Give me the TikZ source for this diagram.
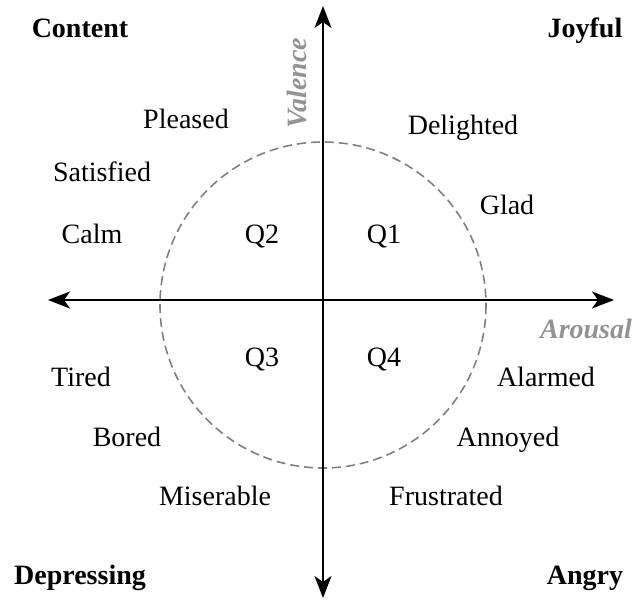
\documentclass[tikz,border=0pt]{standalone}
\usepackage{fontspec}
\setmainfont{Liberation Serif}
\newfontfamily\tnr{Liberation Serif}
\usetikzlibrary{arrows.meta}
\tikzset{
  lbl/.style={font=\tnr\fontsize{28}{30}\selectfont, inner sep=0pt, anchor=base},
  corner/.style={font=\tnr\fontsize{28}{30}\selectfont\bfseries, inner sep=0pt, anchor=base},
  axlbl/.style={font=\tnr\fontsize{28}{30}\selectfont\bfseries\itshape, text=gray!85, inner sep=0pt},
  axis/.style={line width=1.8pt, -{Stealth[length=22pt,width=17pt,inset=6pt]}},
}
\begin{document}
\begin{tikzpicture}[x=1pt,y=-1pt]
\useasboundingbox (0,0) rectangle (635,606);
\coordinate (c) at (323,300);
\coordinate (cc) at (323,305);
\coordinate (L) at (48,300);
\coordinate (R) at (614,300);
\coordinate (T) at (323,6);
\coordinate (B) at (323,598);
\draw[gray, line width=1.6pt, dash pattern=on 9pt off 5pt] (cc) circle[radius=163];
\draw[axis] (c) -- (R);
\draw[axis] (c) -- (L);
\draw[axis] (c) -- (T);
\draw[axis] (c) -- (B);
\node[corner] (content) at (80,37) {Content};
\node[corner] (joyful) at (585,37) {Joyful};
\node[corner] (depr) at (80,584) {Depressing};
\node[corner] (angry) at (585,584) {Angry};
\node[lbl] (pleased) at (186,128) {Pleased};
\node[lbl] (delighted) at (463,134) {Delighted};
\node[lbl] (satisfied) at (102,181) {Satisfied};
\node[lbl] (glad) at (507,214) {Glad};
\node[lbl] (calm) at (92,243) {Calm};
\node[lbl] (q2) at (262,243) {Q2};
\node[lbl] (q1) at (384,243) {Q1};
\node[lbl] (q3) at (262,366) {Q3};
\node[lbl] (q4) at (384,366) {Q4};
\node[lbl] (tired) at (81,386) {Tired};
\node[lbl] (alarmed) at (546,386) {Alarmed};
\node[lbl] (bored) at (127,446) {Bored};
\node[lbl] (annoyed) at (508,446) {Annoyed};
\node[lbl] (miserable) at (215,505) {Miserable};
\node[lbl] (frustrated) at (446,505) {Frustrated};
\node[axlbl, rotate=90] (valence) at (297,83) {Valence};
\node[axlbl] (arousal) at (586,329) {Arousal};
\end{tikzpicture}
\end{document}
